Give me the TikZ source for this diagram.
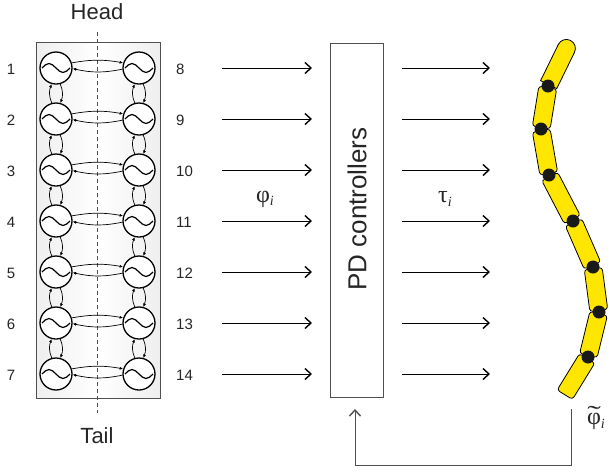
\documentclass[tikz,border=0pt]{standalone}
\usepackage{graphicx}
\usepackage{fontspec}
\setmainfont{Liberation Sans}
\newfontfamily\greekfont{Liberation Serif}
\usetikzlibrary{arrows.meta,calc,shapes.misc}

\definecolor{boxedge}{HTML}{505050}
\definecolor{axisblue}{HTML}{3347C4}
\definecolor{linkyellow}{HTML}{FFE600}
\definecolor{labelgray}{HTML}{262626}

\tikzset{
  panel/.style={draw=boxedge, line width=0.8pt, left color=gray!13, right color=gray!13,
    middle color=white, minimum width=124pt, minimum height=356pt, inner sep=0pt},
  osc/.style={circle, draw=black, line width=1.3pt, fill=white, minimum size=32pt, inner sep=0pt},
  wave/.style={line width=1.2pt},
  couple/.style={line width=0.7pt, -{Latex[length=3.5pt,width=3pt]}},
  num/.style={font=\fontsize{15}{15}\selectfont, text=labelgray, inner sep=0pt},
  title/.style={font=\fontsize{22}{22}\selectfont, text=labelgray, inner sep=0pt, anchor=base},
  sig/.style={line width=1pt, -{Straight Barb[length=6pt,width=11pt,line width=1.4pt]}},
  fbline/.style={line width=1pt, draw=boxedge, -{Straight Barb[length=6pt,width=11pt,line width=1.4pt]}},
  ctrl/.style={draw=boxedge, fill=white, line width=0.9pt, minimum width=53pt, minimum height=354pt, inner sep=0pt},
  greek/.style={font=\greekfont\fontsize{24}{24}\selectfont, text=labelgray, inner sep=0pt},
  link/.style={draw=black, fill=linkyellow, line width=0.8pt, minimum height=18pt, inner sep=0pt,
    rounded corners=3pt, sloped},
  headlink/.style={draw=black, fill=linkyellow, line width=0.8pt, minimum height=18pt, inner sep=0pt,
    rounded rectangle, rounded rectangle left arc=none, sloped, allow upside down},
  joint/.style={circle, fill=black!90, minimum size=13pt, inner sep=0pt},
}

% one yellow link of the snake body between two points
\newcommand\snakelink[4][link]{%
  \path let \p1=($(#3)-(#2)$), \n1={veclen(\x1,\y1)} in
    (#2) -- node[#1, minimum width={\n1-3pt}] (#4) {} (#3);}
% italic index set low after a Greek letter
\newcommand\idx[1]{\raisebox{-0.15em}{\fontsize{14}{14}\selectfont\itshape #1}}

\begin{document}
\begin{tikzpicture}[x=1pt,y=1pt]
\useasboundingbox (0,0) rectangle (610,-475);
\fill[white] (0,0) rectangle (610,-475);

% ---- coupled oscillator network ----
\node[panel] (cpg) at (98,-220) {};
\coordinate (axtop) at (97,-32);
\coordinate (axbot) at (97,-413);
\draw[draw=axisblue, line width=1pt, dash pattern=on 4pt off 3pt] (axtop) -- (axbot);
\node[title] (head) at (97,-19) {Head};
\node[title] (tail) at (97,-443) {Tail};

\foreach \i in {1,...,7} {
  \pgfmathsetmacro{\yy}{-68-51*(\i-1)}
  \pgfmathtruncatemacro{\j}{\i+7}
  \node[osc] (L\i) at (56,\yy) {};
  \node[osc] (R\i) at (139,\yy) {};
  \draw[wave] ($(L\i)+(-14,0)$) sin ++(7,4.5) cos ++(7,-4.5) sin ++(7,-4.5) cos ++(7,4.5);
  \draw[wave] ($(R\i)+(-14,0)$) sin ++(7,4.5) cos ++(7,-4.5) sin ++(7,-4.5) cos ++(7,4.5);
  \draw[couple] (L\i.18) to[bend left=10] (R\i.162);
  \draw[couple] (R\i.184) to[bend left=12] (L\i.-2);
  \node[num] (n\i) at (11,\yy-1) {\i};
  \node[num, anchor=west] (n\j) at (176,\yy-1) {\j};
  % signals into and out of the controllers
  \coordinate (ina\i) at (222,\yy);
  \coordinate (inb\i) at (312,\yy);
  \coordinate (outa\i) at (402,\yy);
  \coordinate (outb\i) at (490,\yy);
  \draw[sig] (ina\i) -- (inb\i);
  \draw[sig] (outa\i) -- (outb\i);
}
\foreach \i in {1,...,6} {
  \pgfmathtruncatemacro{\k}{\i+1}
  \draw[couple] (L\k.105) to[bend left=22] (L\i.-105);
  \draw[couple] (L\i.-75) to[bend left=22] (L\k.75);
  \draw[couple] (R\k.105) to[bend left=22] (R\i.-105);
  \draw[couple] (R\i.-75) to[bend left=22] (R\k.75);
}

\node[greek] (phi) at (265,-199) {φ\idx{i}};
\node[greek] (tau) at (445,-199) {τ\idx{i}};

% ---- controllers ----
\node[ctrl] (pd) at (356.5,-220) {};
\node[rotate=90, font=\fontsize{26}{26}\selectfont, text=labelgray, inner sep=0pt] (pdtext) at (357,-209) {PD controllers};

% ---- snake robot ----
\coordinate (H) at (571,-39);
\coordinate (J1) at (548,-86);
\coordinate (J2) at (541,-129);
\coordinate (J3) at (549,-175);
\coordinate (J4) at (573,-221);
\coordinate (J5) at (593,-267);
\coordinate (J6) at (599,-312);
\coordinate (J7) at (588,-357);
\coordinate (T) at (564,-396);
\snakelink[headlink]{J1}{H}{s0}
\snakelink{J1}{J2}{s1}
\snakelink{J2}{J3}{s2}
\snakelink{J3}{J4}{s3}
\snakelink{J4}{J5}{s4}
\snakelink{J5}{J6}{s5}
\snakelink{J6}{J7}{s6}
\snakelink{J7}{T}{s7}
\foreach \i in {1,...,7} { \node[joint] (j\i) at (J\i) {}; }

% ---- measured angles fed back ----
\coordinate (fbstart) at (571,-409);
\coordinate (fbend) at (355,-409);
\draw[fbline] (fbstart) -- (571,-465) -| (fbend);
\node[greek] (phimeas) at (596,-421)
  {\ooalign{φ\cr\hidewidth\raisebox{0.1em}{\scalebox{1.7}[1]{˜}}\hidewidth\cr}\idx{i}};
\end{tikzpicture}
\end{document}
